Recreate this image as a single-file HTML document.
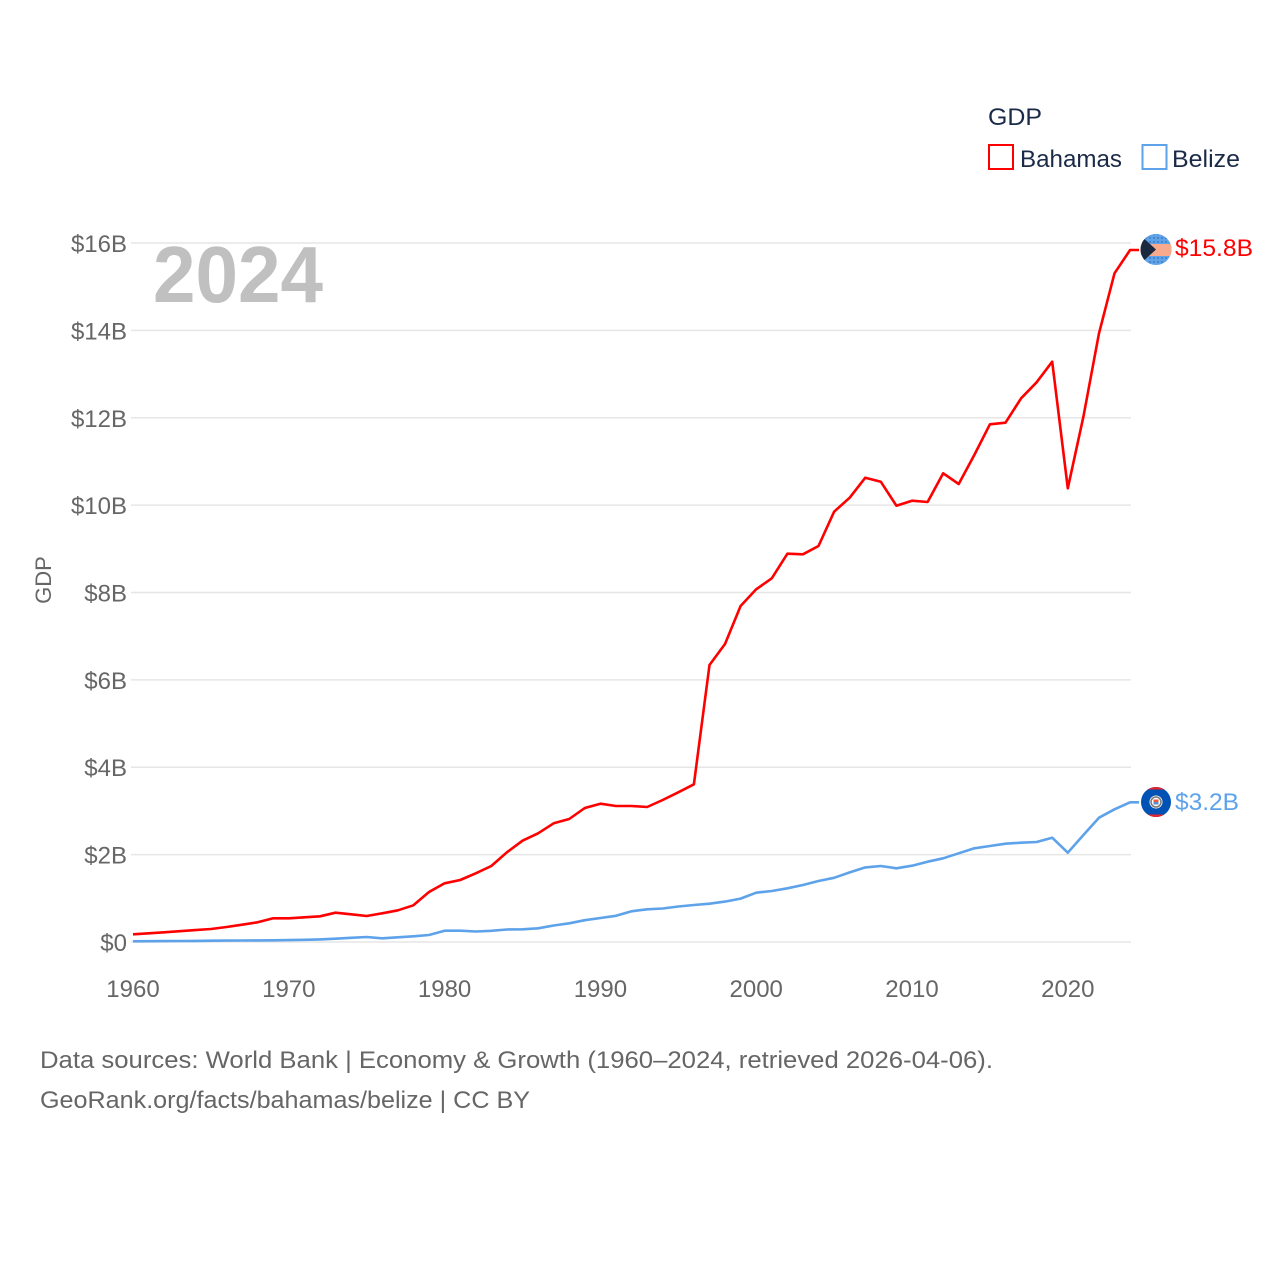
<!DOCTYPE html>
<html>
<head>
<meta charset="utf-8">
<style>
html,body{margin:0;padding:0;background:#fff;}
svg{display:block;}
text{font-family:"Liberation Sans",sans-serif;}
</style>
</head>
<body>
<svg width="1280" height="1280" viewBox="0 0 1280 1280" xmlns="http://www.w3.org/2000/svg">
<rect width="1280" height="1280" fill="#fff"/>
<defs>
<clipPath id="cb"><circle cx="1156" cy="249.5" r="15.5"/></clipPath>
<clipPath id="cz"><circle cx="1156" cy="802" r="15"/></clipPath>
<pattern id="dots" width="4" height="4" patternUnits="userSpaceOnUse">
<rect width="4" height="4" fill="#5ea2ea"/>
<circle cx="2" cy="2" r="0.7" fill="#2a5a9a"/>
</pattern>
</defs>

<!-- gridlines -->
<g stroke="#e6e6e6" stroke-width="1.5">
<line x1="131" y1="243" x2="1131" y2="243"/>
<line x1="131" y1="330.4" x2="1131" y2="330.4"/>
<line x1="131" y1="417.8" x2="1131" y2="417.8"/>
<line x1="131" y1="505.1" x2="1131" y2="505.1"/>
<line x1="131" y1="592.5" x2="1131" y2="592.5"/>
<line x1="131" y1="679.9" x2="1131" y2="679.9"/>
<line x1="131" y1="767.2" x2="1131" y2="767.2"/>
<line x1="131" y1="854.6" x2="1131" y2="854.6"/>
<line x1="131" y1="942" x2="1131" y2="942"/>
</g>

<!-- big year -->
<text x="153" y="302" font-size="80" font-weight="bold" fill="#c0c0c0" textLength="170" lengthAdjust="spacingAndGlyphs">2024</text>

<!-- y tick labels -->
<g font-size="24" fill="#666" text-anchor="end">
<text x="127" y="252">$16B</text>
<text x="127" y="339.4">$14B</text>
<text x="127" y="426.8">$12B</text>
<text x="127" y="514.1">$10B</text>
<text x="127" y="601.5">$8B</text>
<text x="127" y="688.9">$6B</text>
<text x="127" y="776.2">$4B</text>
<text x="127" y="863.6">$2B</text>
<text x="127" y="951">$0</text>
</g>

<!-- x tick labels -->
<g font-size="24" fill="#666" text-anchor="middle">
<text x="133" y="997">1960</text>
<text x="288.8" y="997">1970</text>
<text x="444.6" y="997">1980</text>
<text x="600.4" y="997">1990</text>
<text x="756.2" y="997">2000</text>
<text x="912" y="997">2010</text>
<text x="1067.8" y="997">2020</text>
</g>

<!-- y axis title -->
<text transform="translate(51,580) rotate(-90)" font-size="22" fill="#666" text-anchor="middle">GDP</text>

<!-- Belize line -->
<polyline fill="none" stroke="#5ea2ea" stroke-width="2.6" stroke-linejoin="round" points="
133,941.3 148.6,941.2 164.2,941.1 179.7,941 195.3,940.9 210.9,940.7 226.5,940.6 242.1,940.5 257.6,940.4 273.2,940.3 288.8,940.1 304.4,939.8 320,939.4 335.5,938.7 351.1,937.8 366.7,937 382.3,938.3 397.9,937.3 413.4,936.3 429,935 444.6,930.7 460.2,930.7 475.8,931.5 491.3,930.8 506.9,929.5 522.5,929.3 538.1,928.3 553.7,925.5 569.2,923.3 584.8,920.2 600.4,918 616,915.8 631.6,911.3 647.1,909.3 662.7,908.5 678.3,906.5 693.9,905 709.5,903.7 725,901.6 740.6,898.6 756.2,892.7 771.8,891 787.4,888.3 802.9,885 818.5,881 834.1,877.8 849.7,872.4 865.3,867.4 880.8,866 896.4,868.3 912,865.7 927.6,861.7 943.2,858.3 958.7,853.3 974.3,848.3 989.9,846 1005.5,843.7 1021.1,842.7 1036.6,842 1052.2,837.7 1067.8,852.7 1083.4,835 1099,817.7 1114.5,809.3 1130.1,802.3 1139,802.3"/>

<!-- Bahamas line -->
<polyline fill="none" stroke="#ff0000" stroke-width="2.6" stroke-linejoin="round" points="
133,934.3 148.6,933.3 164.2,932.3 179.7,931.2 195.3,930.1 210.9,929 226.5,927 242.1,924.7 257.6,922.3 273.2,918.3 288.8,918.3 304.4,917.3 320,916.3 335.5,912.7 351.1,914.3 366.7,916 382.3,913.3 397.9,910.3 413.4,905.3 429,892 444.6,883.3 460.2,880 475.8,873.3 491.3,866 506.9,852.3 522.5,840.7 538.1,833.3 553.7,823.3 569.2,819 584.8,808 600.4,803.7 616,806 631.6,806 647.1,807 662.7,800 678.3,792.3 693.9,784.3 709.5,665 725,644 740.6,606 756.2,589.3 771.8,578.3 787.4,553.7 802.9,554.3 818.5,546 834.1,511.7 849.7,497.7 865.3,477.7 880.8,481.7 896.4,505.7 912,500.7 927.6,502 943.2,473.3 958.7,484 974.3,455 989.9,424.3 1005.5,422.7 1021.1,398.3 1036.6,382.3 1052.2,361.7 1067.8,488.3 1083.4,416.7 1099,333.3 1114.5,273.3 1130.1,250 1139,250"/>

<!-- Bahamas flag -->
<g clip-path="url(#cb)">
<rect x="1140" y="233" width="32" height="34" fill="url(#dots)"/>
<rect x="1140" y="244" width="32" height="12" fill="#f9a98c"/>
<polygon points="1138,233 1156,249.5 1138,266" fill="#1b2940"/>
</g>
<text x="1175" y="256" font-size="24" fill="#ff0000" textLength="78" lengthAdjust="spacingAndGlyphs">$15.8B</text>

<!-- Belize flag -->
<g clip-path="url(#cz)">
<rect x="1140" y="786" width="32" height="32" fill="#0052b4"/>
<rect x="1140" y="786" width="32" height="3.5" fill="#e8232a"/>
<rect x="1140" y="814.5" width="32" height="3.5" fill="#e8232a"/>
</g>
<circle cx="1156" cy="802" r="6.5" fill="#fff"/>
<circle cx="1156" cy="802" r="5" fill="none" stroke="#777" stroke-width="1.5"/>
<rect x="1153.5" y="799.5" width="5" height="2.5" fill="#e85a3a"/>
<rect x="1153.5" y="802" width="5" height="2.5" fill="#5a8ad0"/>
<text x="1175" y="810" font-size="24" fill="#5ea2ea" textLength="64" lengthAdjust="spacingAndGlyphs">$3.2B</text>

<!-- legend -->
<text x="988" y="125" font-size="24" fill="#1b2a47" textLength="54" lengthAdjust="spacingAndGlyphs">GDP</text>
<rect x="989" y="145" width="24" height="24" fill="none" stroke="#ff0000" stroke-width="2"/>
<text x="1020" y="167" font-size="24" fill="#1b2a47" textLength="102" lengthAdjust="spacingAndGlyphs">Bahamas</text>
<rect x="1142.5" y="145" width="24" height="24" fill="none" stroke="#5ea2ea" stroke-width="2"/>
<text x="1172" y="167" font-size="24" fill="#1b2a47" textLength="68" lengthAdjust="spacingAndGlyphs">Belize</text>

<!-- footer -->
<text x="40" y="1068" font-size="24" fill="#666" textLength="953" lengthAdjust="spacingAndGlyphs">Data sources: World Bank | Economy &amp; Growth (1960–2024, retrieved 2026-04-06).</text>
<text x="40" y="1108" font-size="24" fill="#666" textLength="490" lengthAdjust="spacingAndGlyphs">GeoRank.org/facts/bahamas/belize | CC BY</text>
</svg>
</body>
</html>
